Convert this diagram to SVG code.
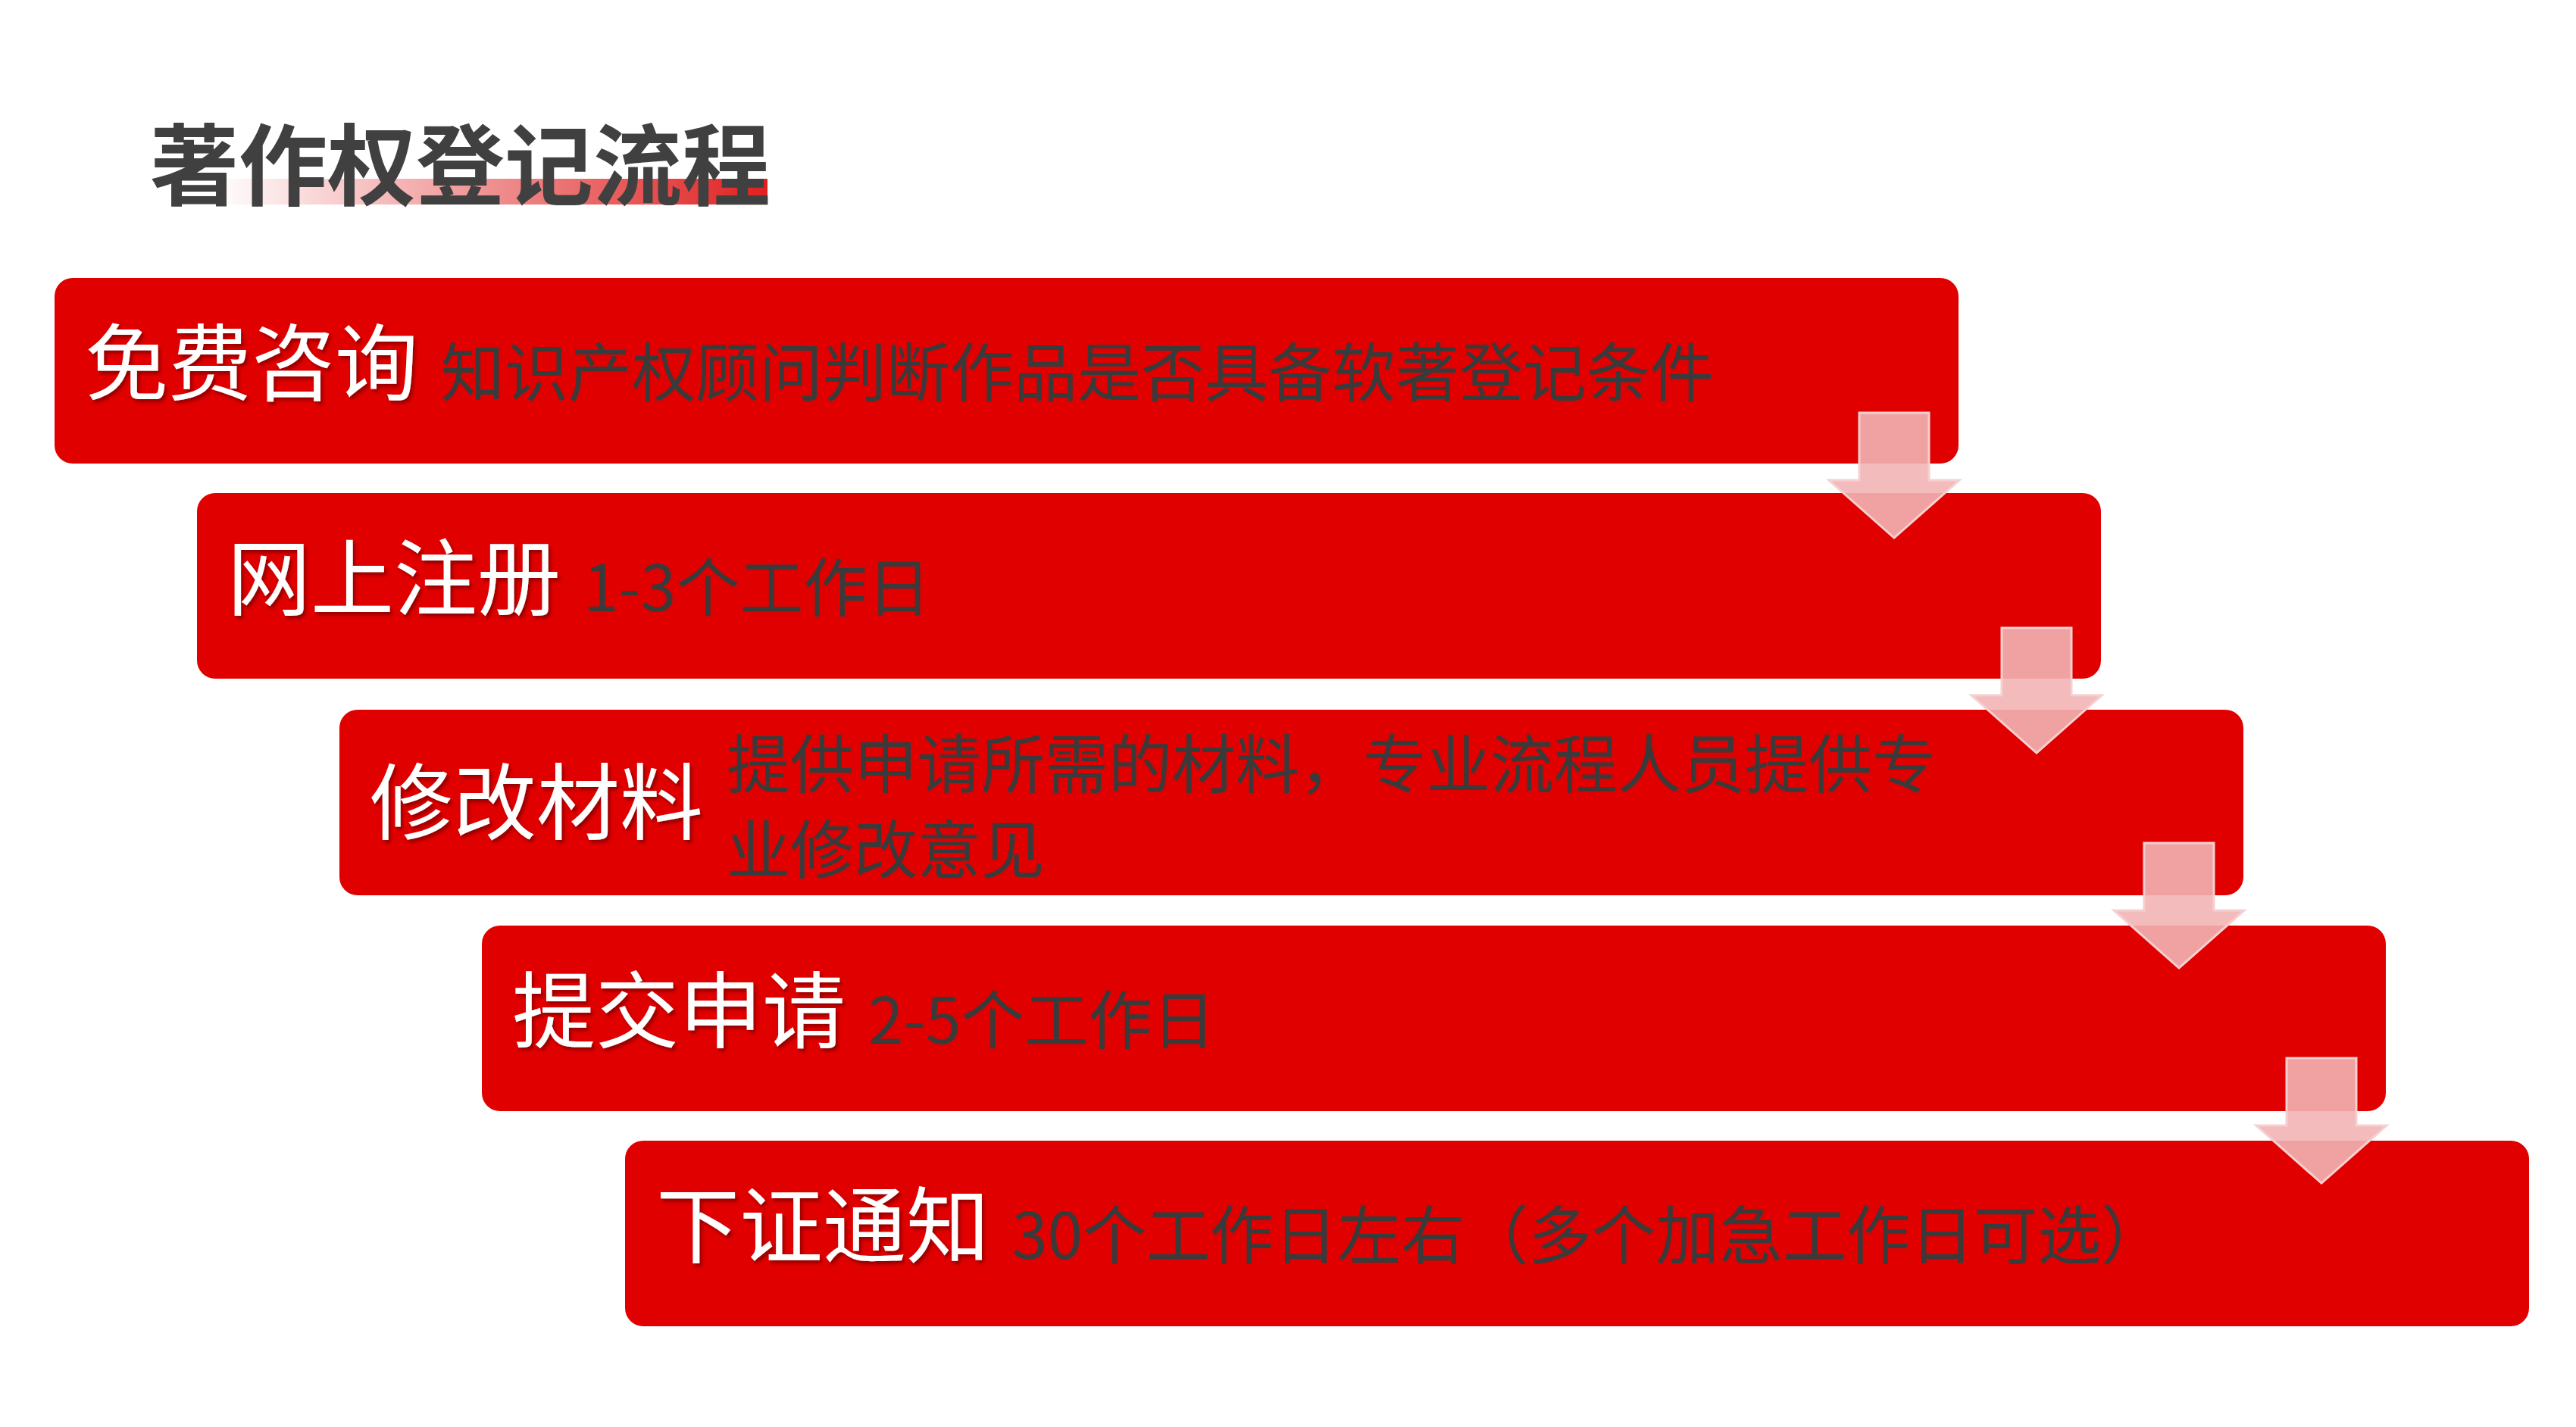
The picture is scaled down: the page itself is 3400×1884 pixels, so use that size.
<svg xmlns="http://www.w3.org/2000/svg" width="3400" height="1884" viewBox="0 0 3400 1884">
<style>
.box{fill:#e00000}
.lab{font-family:"Noto Sans CJK SC","Noto Sans",sans-serif;font-size:110px;font-weight:400;fill:#fff;filter:url(#sh)}
.desc{font-family:"Noto Sans CJK SC","Noto Sans",sans-serif;font-size:84px;font-weight:400;fill:#3a3a3a}
.arr{fill:#f2b4b4;fill-opacity:0.9;stroke:#f6d0d0;stroke-width:3}
</style>
<defs>
<linearGradient id="hl" x1="0" x2="1" y1="0" y2="0">
<stop offset="0" stop-color="#fff"/><stop offset="1" stop-color="#e02020"/>
</linearGradient>
<filter id="sh" x="-5%" y="-20%" width="110%" height="140%"><feDropShadow dx="3" dy="4" stdDeviation="2" flood-color="#600" flood-opacity="0.6"/></filter>
</defs>
<rect width="3400" height="1884" fill="#fff"/>
<g id="title">
<rect x="283" y="236" width="730" height="34" fill="url(#hl)"/>
<text x="198" y="262" font-family="Noto Sans CJK SC,sans-serif" font-size="117" font-weight="700" fill="#404040">著作权登记流程</text>
</g>
<g id="n1"><rect class="box" x="72" y="367" width="2513" height="245" rx="24"/>
<text class="lab" x="112" y="520">免费咨询</text><text class="desc" x="582" y="523">知识产权顾问判断作品是否具备软著登记条件</text></g>
<g id="n2"><rect class="box" x="260" y="651" width="2513" height="245" rx="24"/>
<text class="lab" x="300" y="804">网上注册</text><text class="desc" x="770" y="807">1-3个工作日</text></g>
<g id="n3"><rect class="box" x="448" y="937" width="2513" height="245" rx="24"/>
<text class="lab" x="488" y="1100">修改材料</text><text class="desc" x="959" y="1040">提供申请所需的材料，专业流程人员提供专</text><text class="desc" x="959" y="1153">业修改意见</text></g>
<g id="n4"><rect class="box" x="636" y="1222" width="2513" height="245" rx="24"/>
<text class="lab" x="676" y="1375">提交申请</text><text class="desc" x="1146" y="1378">2-5个工作日</text></g>
<g id="n5"><rect class="box" x="825" y="1506" width="2513" height="245" rx="24"/>
<text class="lab" x="866" y="1659">下证通知</text><text class="desc" x="1336" y="1662">30个工作日左右（多个加急工作日可选）</text></g>
<g id="connectors">
<path id="a1" class="arr" d="M2454 545H2546V634H2586L2500 710L2414 634H2454Z"/>
<use href="#a1" transform="translate(188,284)"/>
<use href="#a1" transform="translate(376,568)"/>
<use href="#a1" transform="translate(564,852)"/>
</g>
</svg>
